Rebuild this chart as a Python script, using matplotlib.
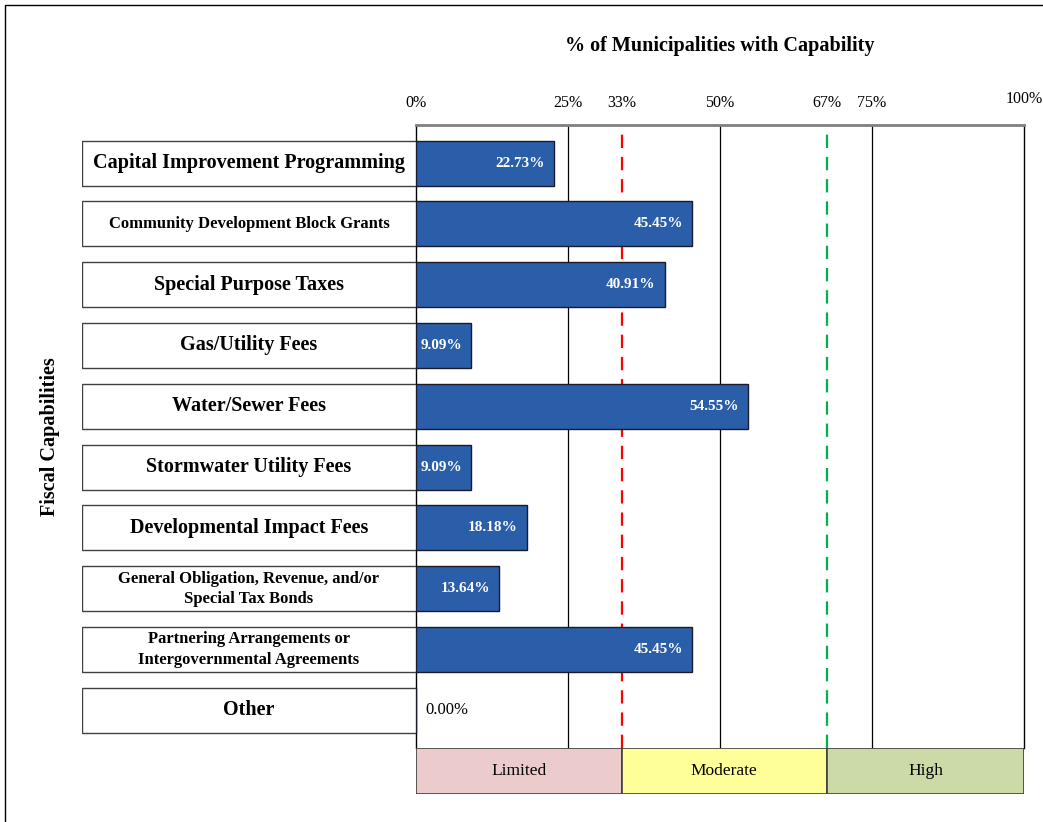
import matplotlib
matplotlib.use("Agg")
import matplotlib.pyplot as plt
import matplotlib.transforms as mtransforms
from matplotlib.patches import Rectangle

plt.rcParams['font.family'] = ['Liberation Serif', 'DejaVu Serif']

categories = [
    "Capital Improvement Programming",
    "Community Development Block Grants",
    "Special Purpose Taxes",
    "Gas/Utility Fees",
    "Water/Sewer Fees",
    "Stormwater Utility Fees",
    "Developmental Impact Fees",
    "General Obligation, Revenue, and/or\nSpecial Tax Bonds",
    "Partnering Arrangements or\nIntergovernmental Agreements",
    "Other",
]
label_sizes = [14.5, 12, 14.5, 14.5, 14.5, 14.5, 14.5, 12, 12, 14.5]
values = [22.73, 45.45, 40.91, 9.09, 54.55, 9.09, 18.18, 13.64, 45.45, 0.00]

tick_pos = [0, 25, 33.8, 50, 67.6, 75, 100]
tick_labels = ["0%", "25%", "33%", "50%", "67%", "75%", "100%"]
grid_pos = [25, 50, 75]
limited_edge = 33.8
high_edge = 67.6
bands = [("Limited", 0, limited_edge, "#EBCBCB"),
         ("Moderate", limited_edge, high_edge, "#FFFF99"),
         ("High", high_edge, 100, "#CCDAA8")]

W, H = 1043, 822
fig = plt.figure(figsize=(W / 100, H / 100), dpi=100)

# outer frame
fig.patches.append(Rectangle((5 / W, -0.1), 1.2, 1 - 5 / H + 0.1, transform=fig.transFigure,
                             fill=False, edgecolor="black", linewidth=1.0))

bottom = 1 - 748 / H
height = 623 / H
ax = fig.add_axes([416 / W, bottom, 608 / W, height])
ylim = (9.62, -0.625)
y = list(range(len(categories)))

ax.barh(y, values, height=0.74, color="#2A5EA8", edgecolor="#1a1a2a", linewidth=1.0, zorder=3)
for gx in grid_pos:
    ax.axvline(gx, color="black", linewidth=0.9, zorder=1)
ax.axvline(limited_edge, color="#FF0000", linestyle=(0, (6, 4)), linewidth=1.6, zorder=2)
ax.axvline(high_edge, color="#00B050", linestyle=(0, (6, 4)), linewidth=1.6, zorder=2)
ax.set_xlim(0, 100)
ax.set_ylim(*ylim)
ax.set_xticks([])
ax.set_yticks([])
for s in ["left", "right"]:
    ax.spines[s].set_color("black")
    ax.spines[s].set_linewidth(1.0)
ax.spines["top"].set_color("#808080")
ax.spines["top"].set_linewidth(2.0)
ax.spines["bottom"].set_visible(False)

for yi, v in zip(y, values):
    if v > 0:
        ax.text(v - 1.5, yi, f"{v:.2f}%", ha="right", va="center", color="white",
                fontsize=11, fontweight="bold", zorder=4)
    else:
        ax.text(1.5, yi, f"{v:.2f}%", ha="left", va="center", color="black", fontsize=12, zorder=4)

trans = mtransforms.blended_transform_factory(ax.transData, ax.transAxes)
for tp, tl in zip(tick_pos, tick_labels):
    dy = 1.042 if tl == "100%" else 1.036
    ax.text(tp, dy, tl, transform=trans, ha="center", va="center", fontsize=11.5)

ax.text(0.5, (748 - 46) / 623, "% of Municipalities with Capability", transform=ax.transAxes,
        ha="center", va="center", fontsize=14.5, fontweight="bold")

# category label boxes
axl = fig.add_axes([82 / W, bottom, (416 - 82) / W, height])
axl.barh(y, [1] * len(y), height=0.74, color="white", edgecolor="#404040", linewidth=1.0)
for yi, c, fs in zip(y, categories, label_sizes):
    axl.text(0.5, yi, c, ha="center", va="center", fontsize=fs, fontweight="bold", linespacing=1.35)
axl.set_xlim(0, 1)
axl.set_ylim(*ylim)
axl.axis("off")

fig.text(50 / W, 1 - 437 / H, "Fiscal Capabilities", rotation=90, ha="center", va="center",
         fontsize=14.5, fontweight="bold")

# capability bands
axb = fig.add_axes([416 / W, 1 - 794 / H, 608 / W, 46 / H])
for name, x0, x1, col in bands:
    axb.barh(0, x1 - x0, left=x0, height=1, color=col, edgecolor="#404040", linewidth=1.2)
    axb.text((x0 + x1) / 2, 0, name, ha="center", va="center", fontsize=12.5)
axb.set_xlim(0, 100)
axb.set_ylim(-0.5, 0.5)
axb.axis("off")

fig.savefig("out.png", dpi=100)
